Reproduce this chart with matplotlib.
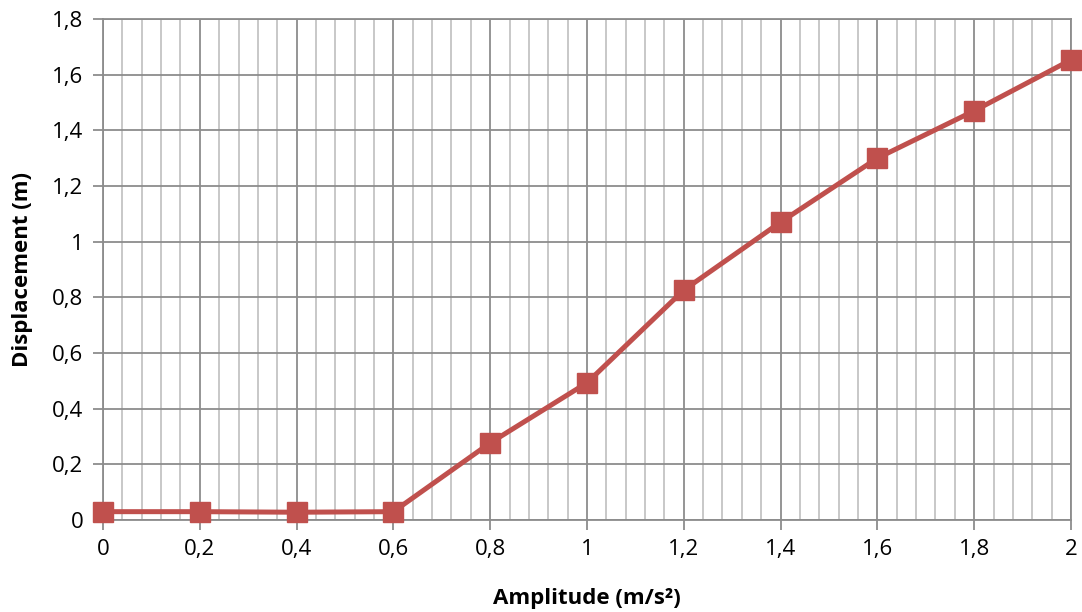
import matplotlib.pyplot as plt
from matplotlib.ticker import MultipleLocator, FuncFormatter

# data
amplitude = [0, 0.2, 0.4, 0.6, 0.8, 1.0, 1.2, 1.4, 1.6, 1.8, 2.0]
displacement = [0.03, 0.03, 0.028, 0.03, 0.277, 0.493, 0.826, 1.07, 1.30, 1.47, 1.653]

plt.rcParams['font.family'] = ['Open Sans', 'DejaVu Sans']

fig = plt.figure(figsize=(10.82, 6.12), dpi=100)
ax = fig.add_axes([0.0952, 0.1503, 0.8946, 0.8187])

ax.plot(amplitude, displacement, color='#C0504D', linewidth=3.6,
        marker='s', markersize=14, markerfacecolor='#C0504D',
        markeredgecolor='#C0504D', clip_on=False, zorder=5)

ax.set_xlim(0, 2)
ax.set_ylim(0, 1.8)
ax.xaxis.set_major_locator(MultipleLocator(0.2))
ax.xaxis.set_minor_locator(MultipleLocator(0.04))
ax.yaxis.set_major_locator(MultipleLocator(0.2))

fmt = FuncFormatter(lambda v, p: ('%g' % round(v, 2)).replace('.', ','))
ax.xaxis.set_major_formatter(fmt)
ax.yaxis.set_major_formatter(fmt)

ax.grid(which='major', color='#8c8c8c', linewidth=1.3)
ax.grid(which='minor', axis='x', color='#c4c4c4', linewidth=1.3)
ax.set_axisbelow(True)

for s in ax.spines.values():
    s.set_color('#8c8c8c')
    s.set_linewidth(1.3)

ax.tick_params(which='major', length=7, width=1.3, color='#8c8c8c',
               labelsize=16, pad=7)
ax.tick_params(which='minor', length=0)

ax.set_xlabel('Amplitude (m/s²)', fontsize=16, fontweight='bold', labelpad=20)
ax.set_ylabel('Displacement (m)', fontsize=16, fontweight='bold', labelpad=14)

fig.savefig('out.png', dpi=100)
